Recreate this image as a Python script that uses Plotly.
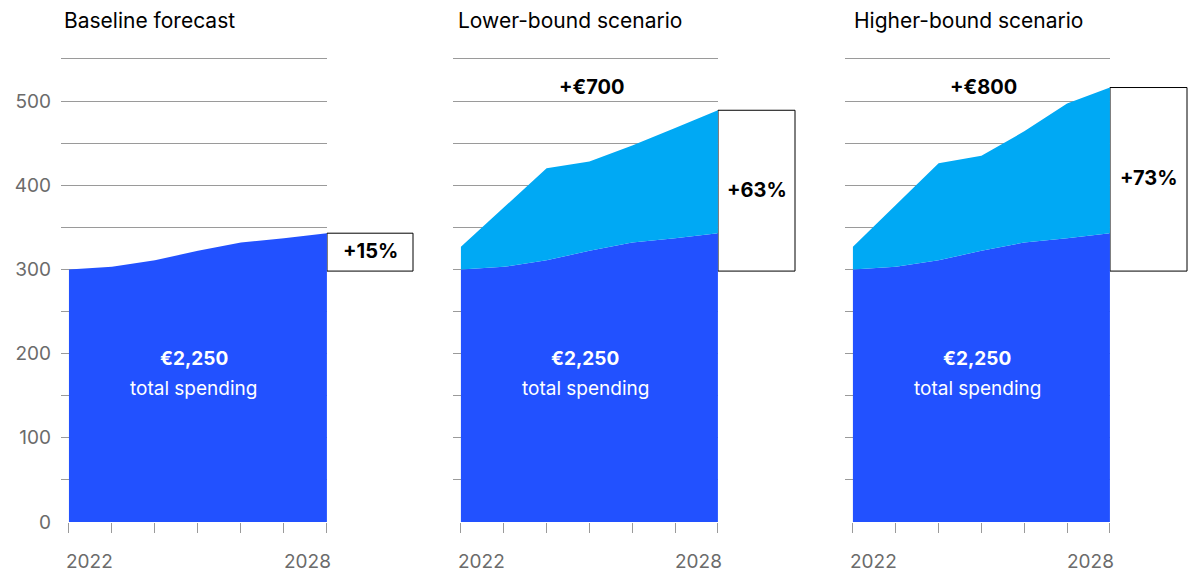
import plotly.graph_objects as go

years = [2022, 2023, 2024, 2025, 2026, 2027, 2028]
baseline = [300, 303, 311, 322, 332, 337, 343]
lower_bound = [327, 373, 420, 428, 447, 468, 489]
higher_bound = [327, 376, 426, 435, 464, 497, 516]

panel_titles = ["Baseline forecast", "Lower-bound scenario", "Higher-bound scenario"]
pct_labels = ["+15%", "+63%", "+73%"]
extra_labels = ["", "+€700", "+€800"]
total_value = "€2,250"
total_text = "total spending"
year_labels = ["2022", "2028"]
y_tickvals = [0, 50, 100, 150, 200, 250, 300, 350, 400, 450, 500, 550]
y_ticktext = ["0", "", "100", "", "200", "", "300", "", "400", "", "500", ""]

DARK = "#2251FF"
LIGHT = "#00A9F4"
GRID = "#9a9a9a"
TICKFONT = "#6b6b6b"
FONT = "Inter"

W, H = 1191, 574
px_domains = [(61, 327), (453, 718), (845, 1110)]
box_right_px = [413, 795, 1187]
title_x_px = [62, 456, 852]
Y_TOP = 553
ydom = [(H - 522) / H, (H - (522 - Y_TOP * 0.842)) / H]

fig = go.Figure()
scen_tops = [None, lower_bound, higher_bound]

for i in range(3):
    xa = "x" if i == 0 else f"x{i+1}"
    ya = "y" if i == 0 else f"y{i+1}"
    fig.add_trace(go.Scatter(x=years, y=baseline, mode="lines", fill="tozeroy",
                             line=dict(width=0, color=DARK), fillcolor=DARK,
                             xaxis=xa, yaxis=ya, hoverinfo="skip", showlegend=False))
    if scen_tops[i] is not None:
        fig.add_trace(go.Scatter(x=years, y=scen_tops[i], mode="lines", fill="tonexty",
                                 line=dict(width=0, color=LIGHT), fillcolor=LIGHT,
                                 xaxis=xa, yaxis=ya, hoverinfo="skip", showlegend=False))
    d0, d1 = px_domains[i][0] / W, px_domains[i][1] / W
    xkey = "xaxis" if i == 0 else f"xaxis{i+1}"
    ykey = "yaxis" if i == 0 else f"yaxis{i+1}"
    fig.layout[xkey] = dict(domain=[d0, d1], range=[2021.815, 2028.002],
                            tickvals=years, ticks="outside", showticklabels=False,
                            ticklen=10, tickcolor=GRID, tickwidth=1,
                            showgrid=False, zeroline=False, showline=False,
                            automargin=False, anchor=ya)
    fig.layout[ykey] = dict(domain=ydom, range=[0, Y_TOP], tickvals=y_tickvals,
                            ticktext=y_ticktext if i == 0 else [""] * len(y_tickvals),
                            showticklabels=(i == 0),
                            showgrid=True, gridcolor=GRID, gridwidth=1,
                            zeroline=False, showline=False, ticks="",
                            ticklabelstandoff=9, automargin=False,
                            tickfont=dict(family=FONT, size=19, color=TICKFONT),
                            anchor=xa)

    # year labels (inward aligned)
    fig.add_annotation(xref=xa, yref="paper", x=years[0], y=(H - 561) / H,
                       text=year_labels[0], showarrow=False, xanchor="left",
                       yanchor="middle", xshift=-5,
                       font=dict(family=FONT, size=19, color=TICKFONT))
    fig.add_annotation(xref=xa, yref="paper", x=years[-1], y=(H - 561) / H,
                       text=year_labels[1], showarrow=False, xanchor="right",
                       yanchor="middle", xshift=6,
                       font=dict(family=FONT, size=19, color=TICKFONT))

    top = scen_tops[i] if scen_tops[i] is not None else baseline
    # percent box
    fig.add_shape(type="rect", xref="paper", yref=ya,
                  x0=d1, x1=box_right_px[i] / W, y0=baseline[0] - 2, y1=top[-1],
                  line=dict(color="#000", width=1), fillcolor="rgba(0,0,0,0)",
                  layer="below")
    fig.add_annotation(xref="paper", yref=ya, x=(d1 + box_right_px[i] / W) / 2,
                       y=(baseline[0] + top[-1]) / 2, text=f"<b>{pct_labels[i]}</b>",
                       showarrow=False, xanchor="center", yanchor="middle",
                       font=dict(family=FONT, size=20, color="#000"))
    # title
    fig.add_annotation(xref="paper", yref="paper", x=title_x_px[i] / W, y=(H - 20) / H,
                       text=panel_titles[i], showarrow=False, xanchor="left",
                       yanchor="middle", font=dict(family=FONT, size=21, color="#000"))
    # total spending
    fig.add_annotation(xref=xa, yref=ya, x=2024.9, y=194, text=f"<b>{total_value}</b>",
                       showarrow=False, xanchor="center", yanchor="middle",
                       font=dict(family=FONT, size=19, color="#fff"))
    fig.add_annotation(xref=xa, yref=ya, x=2024.9, y=158, text=total_text,
                       showarrow=False, xanchor="center", yanchor="middle",
                       font=dict(family=FONT, size=19, color="#fff"))
    if extra_labels[i]:
        fig.add_annotation(xref=xa, yref=ya, x=2025.05, y=517,
                           text=f"<b>{extra_labels[i]}</b>", showarrow=False,
                           xanchor="center", yanchor="middle",
                           font=dict(family=FONT, size=20, color="#000"))

fig.update_layout(width=W, height=H, margin=dict(l=0, r=0, t=0, b=0),
                  paper_bgcolor="#fff", plot_bgcolor="#fff",
                  font=dict(family=FONT), showlegend=False)
fig.write_html("out.html", config={"displayModeBar": False},
               post_script="document.body.style.margin='0px';"
                           "document.body.style.overflow='hidden';")
